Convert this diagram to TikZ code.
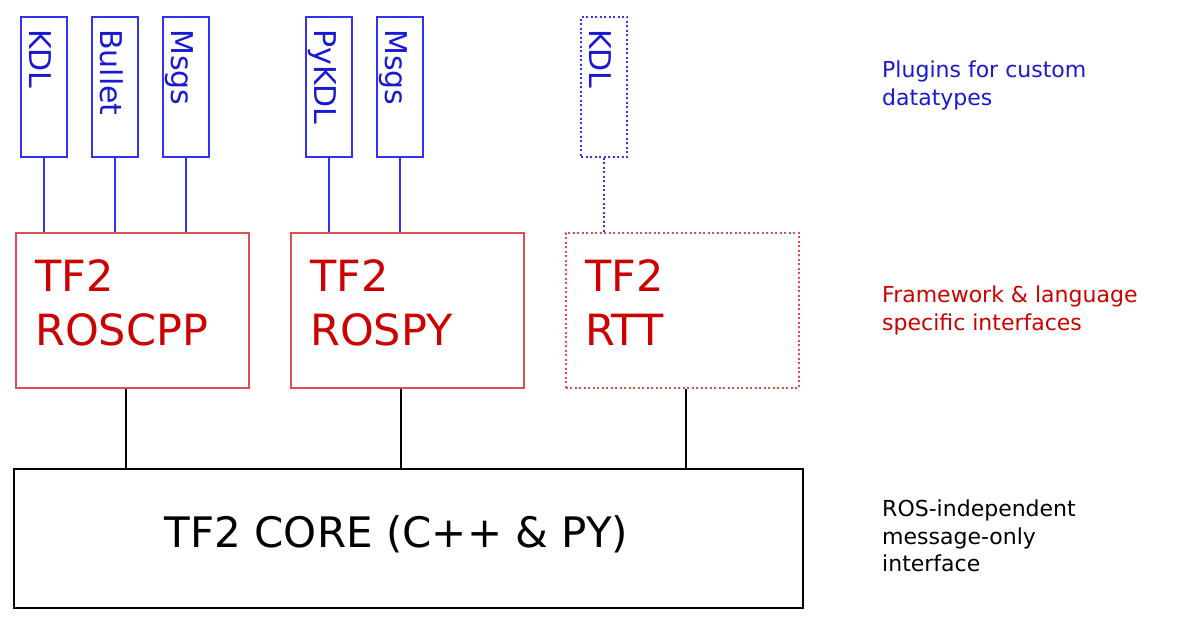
\documentclass[tikz,border=0pt]{standalone}
\usepackage{fontspec}
\setmainfont{DejaVu Sans}
\definecolor{txtblue}{RGB}{25,25,210}
\definecolor{lineblue}{RGB}{50,50,245}
\definecolor{txtred}{RGB}{205,0,0}
\definecolor{linered}{RGB}{222,80,80}
\tikzset{
  plugbox/.style={draw=lineblue, line width=2pt, minimum width=46pt, minimum height=140pt, anchor=north west, inner sep=0pt},
  plugtxt/.style={text=txtblue, font=\fontsize{30}{36}\selectfont, anchor=base west, rotate=-90, inner sep=0pt},
  plugline/.style={draw=lineblue, line width=2pt},
  fwbox/.style={draw=linered, line width=1.8pt, minimum width=233pt, minimum height=155pt, anchor=north west, inner sep=0pt},
  fwtxt/.style={text=txtred, font=\fontsize{43}{54}\selectfont, align=left, anchor=north west, inner sep=0pt},
  dotline/.style={dash pattern=on 2pt off 2.5pt},
  coreline/.style={draw=black, line width=1.4pt},
  sidetxt/.style={font=\fontsize{22}{27.5}\selectfont, align=left, anchor=north west, inner sep=0pt}
}
\begin{document}
\begin{tikzpicture}[x=1pt,y=-1pt]
\useasboundingbox[fill=white] (0,0) rectangle (1182,620);
% plugin boxes
\node[plugbox] (p1) at (20,16) {};
\node[plugbox] (p2) at (91,16) {};
\node[plugbox] (p3) at (162,16) {};
\node[plugbox] (p4) at (305,16) {};
\node[plugbox] (p5) at (376,16) {};
\node[plugbox, dotline] (p6) at (580,16) {};
\node[plugtxt] (t1) at ([xshift=9pt,yshift=-13pt]p1.north west) {KDL};
\node[plugtxt] (t2) at ([xshift=9pt,yshift=-13pt]p2.north west) {Bullet};
\node[plugtxt] (t3) at ([xshift=9pt,yshift=-13pt]p3.north west) {Msgs};
\node[plugtxt] (t4) at ([xshift=9pt,yshift=-13pt]p4.north west) {PyKDL};
\node[plugtxt] (t5) at ([xshift=9pt,yshift=-13pt]p5.north west) {Msgs};
\node[plugtxt] (t6) at ([xshift=9pt,yshift=-13pt]p6.north west) {KDL};
% framework boxes
\node[fwbox] (f1) at (15,232) {};
\node[fwbox] (f2) at (290,232) {};
\node[fwbox, dotline] (f3) at (565,232) {};
\node[fwtxt] (ft1) at ([xshift=20pt,yshift=-27pt]f1.north west) {TF2\\ROSCPP};
\node[fwtxt] (ft2) at ([xshift=20pt,yshift=-27pt]f2.north west) {TF2\\ROSPY};
\node[fwtxt] (ft3) at ([xshift=20pt,yshift=-27pt]f3.north west) {TF2\\RTT};
% core
\node[draw=black, line width=2pt, minimum width=789pt, minimum height=139pt, anchor=north west, inner sep=0pt] (core) at (13,468) {};
\node[font=\fontsize{42}{50}\selectfont, anchor=base, inner sep=0pt] (coretxt) at (396.5,547) {TF2 CORE (C++ \& PY)};
% connectors
\draw[plugline] (p1.south) -- (p1.south |- f1.north);
\draw[plugline] (p2.south) -- (p2.south |- f1.north);
\draw[plugline] (p3.south) -- (p3.south |- f1.north);
\draw[plugline] (p4.south) -- (p4.south |- f2.north);
\draw[plugline] (p5.south) -- (p5.south |- f2.north);
\draw[plugline, dotline] (p6.south) -- (p6.south |- f3.north);
\coordinate (c1) at (126,387);
\coordinate (c2) at (401,387);
\coordinate (c3) at (686,387);
\draw[coreline] (c1 |- f1.south) -- (c1 |- core.north);
\draw[coreline] (c2 |- f2.south) -- (c2 |- core.north);
\draw[coreline] (c3 |- f3.south) -- (c3 |- core.north);
% side labels
\node[sidetxt, text=txtblue] (s1) at (882,61) {Plugins for custom\\datatypes};
\node[sidetxt, text=txtred] (s2) at (882,286) {Framework \& language\\specific interfaces};
\node[sidetxt, text=black] (s3) at (882,500) {ROS-independent\\message-only\\interface};
\end{tikzpicture}
\end{document}
